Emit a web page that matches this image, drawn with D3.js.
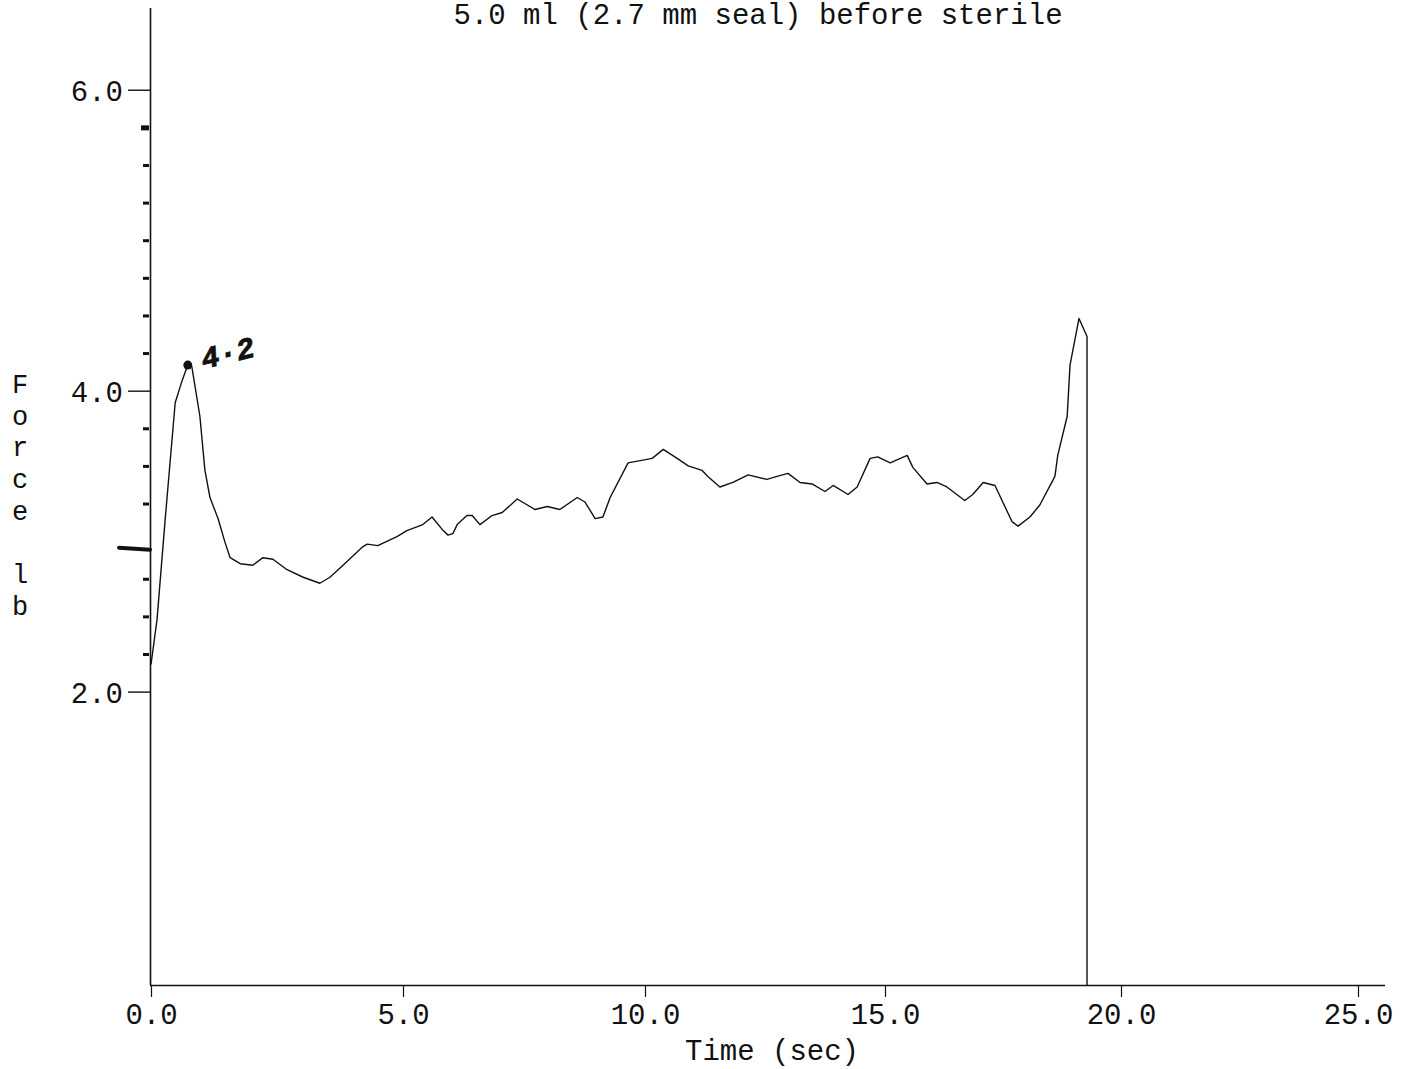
<!DOCTYPE html>
<html>
<head>
<meta charset="utf-8">
<script src="https://cdn.jsdelivr.net/npm/d3@7"></script>
<style>
  html, body { margin: 0; padding: 0; background: #fff; }
  svg { display: block; }
  text { font-family: "Liberation Mono", "DejaVu Sans Mono", monospace; fill: #111; }
</style>
</head>
<body>
<script>
// ---- data ----
const titleText = "5.0 ml (2.7 mm seal) before sterile";
const xLabel = "Time (sec)";
const yLabelLetters = ["F", "o", "r", "c", "e", "", "l", "b"];
const xTicks = [0, 5, 10, 15, 20, 25];
const yTicks = [2, 4, 6];
const yMinorTicks = [2.25, 2.5, 2.75, 3.25, 3.5, 3.75, 4.25, 4.5, 4.75, 5.0, 5.25, 5.5, 5.75];
const timeSec = [0, 0.12, 0.28, 0.48, 0.62, 0.73, 0.81, 0.97, 1.07, 1.17, 1.33, 1.47, 1.57, 1.77, 2.02, 2.22, 2.42, 2.70, 3.02, 3.35, 3.55, 3.81, 4.19, 4.29, 4.50, 4.88, 5.08, 5.41, 5.60, 5.83, 5.93, 6.03, 6.12, 6.32, 6.43, 6.59, 6.84, 7.05, 7.36, 7.73, 7.98, 8.24, 8.60, 8.76, 8.97, 9.13, 9.28, 9.65, 10.15, 10.38, 10.67, 10.90, 11.19, 11.31, 11.56, 11.83, 12.15, 12.54, 12.75, 12.98, 13.23, 13.48, 13.75, 13.92, 14.23, 14.42, 14.69, 14.85, 15.11, 15.47, 15.59, 15.89, 16.10, 16.31, 16.69, 16.86, 17.08, 17.33, 17.48, 17.69, 17.82, 18.07, 18.28, 18.60, 18.66, 18.86, 18.92, 19.11, 19.28, 19.28];
const forceLb = [2.18, 2.48, 3.14, 3.92, 4.07, 4.17, 4.16, 3.83, 3.47, 3.29, 3.15, 2.99, 2.89, 2.85, 2.84, 2.89, 2.88, 2.81, 2.76, 2.72, 2.76, 2.84, 2.96, 2.98, 2.97, 3.03, 3.07, 3.11, 3.16, 3.07, 3.04, 3.05, 3.11, 3.17, 3.17, 3.11, 3.17, 3.19, 3.28, 3.21, 3.23, 3.21, 3.29, 3.26, 3.15, 3.16, 3.29, 3.52, 3.55, 3.61, 3.55, 3.50, 3.47, 3.43, 3.36, 3.39, 3.44, 3.41, 3.43, 3.45, 3.39, 3.38, 3.33, 3.37, 3.31, 3.36, 3.55, 3.56, 3.52, 3.57, 3.49, 3.38, 3.39, 3.36, 3.27, 3.31, 3.39, 3.37, 3.27, 3.13, 3.10, 3.16, 3.24, 3.43, 3.57, 3.83, 4.17, 4.48, 4.36, 0.05];
const peakNote = { t: 0.73, v: 4.17, label: "4·2" };
const handMarkValue = 2.95;

// ---- layout ----
const W = 1410, H = 1069;
const svg = d3.select("body").append("svg").attr("width", W).attr("height", H);

// axis of the scanned plot is slightly non-uniform, so a piecewise-linear scale is used
const x = d3.scaleLinear().domain([0, 5, 10, 15, 20, 25]).range([151, 403, 645, 885, 1121, 1358]);
const y = d3.scaleLinear().domain([0.05, 6.53]).range([985, 10]);

// title (kept fully visible at the top edge)
svg.append("text").attr("x", 758).attr("y", 24).attr("text-anchor", "middle")
  .attr("font-size", 29).text(titleText);

// x axis
const xAxis = d3.axisBottom(x).tickValues(xTicks).tickFormat(d3.format(".1f"))
  .tickSize(12).tickSizeOuter(0);
const gx = svg.append("g").attr("transform", "translate(0,985)").call(xAxis);
gx.select(".domain").attr("d", "M150,0.5H1385").attr("stroke", "#111").attr("stroke-width", 1.6);
gx.selectAll(".tick line").attr("stroke", "#111").attr("stroke-width", 1.2);
gx.selectAll(".tick text").attr("font-size", 29).attr("y", 39).attr("dy", null)
  .attr("font-family", "Liberation Mono, monospace").attr("fill", "#111");

// x label
svg.append("text").attr("x", 772).attr("y", 1060).attr("text-anchor", "middle")
  .attr("font-size", 29).text(xLabel);

// y axis
const yAxis = d3.axisLeft(y).tickValues(yTicks).tickFormat(d3.format(".1f"))
  .tickSize(22).tickSizeOuter(0).tickPadding(5);
const gy = svg.append("g").attr("transform", "translate(150,0)").call(yAxis);
gy.select(".domain").attr("d", "M0.5,985V8").attr("stroke", "#111").attr("stroke-width", 1.6);
gy.selectAll(".tick line").attr("stroke", "#111").attr("stroke-width", 1.4);
gy.selectAll(".tick text").attr("font-size", 29).attr("dy", "0.36em")
  .attr("font-family", "Liberation Mono, monospace").attr("fill", "#111");

// minor ticks
const yMinor = d3.axisLeft(y).tickValues(yMinorTicks).tickFormat("").tickSize(6).tickSizeOuter(0);
const gm = svg.append("g").attr("transform", "translate(149,0)").call(yMinor);
gm.select(".domain").remove();
gm.selectAll(".tick line").attr("stroke", "#111").attr("stroke-width", 3);
gm.selectAll(".tick").filter(d => d === 5.75).select("line").attr("stroke-width", 5).attr("x2", -8);

// hand-drawn mark on y axis
svg.append("path")
  .attr("d", `M119,${y(handMarkValue) - 1}L150,${y(handMarkValue) + 1}`)
  .attr("stroke", "#111").attr("stroke-width", 4).attr("stroke-linecap", "round");

// y label, stacked letters
svg.append("g").selectAll("text").data(yLabelLetters).join("text")
  .attr("x", 20).attr("y", (d, i) => 393 + i * 31.7)
  .attr("text-anchor", "middle").attr("font-size", 27).text(d => d);

// data line
const pts = timeSec.map((t, i) => [t, forceLb[i]]);
const line = d3.line().x(d => x(d[0])).y(d => y(d[1]));
svg.append("path").datum(pts).attr("d", line)
  .attr("fill", "none").attr("stroke", "#111").attr("stroke-width", 1.4)
  .attr("stroke-linejoin", "round");

// peak annotation (handwritten)
svg.append("circle").attr("cx", x(peakNote.t)).attr("cy", y(peakNote.v)).attr("r", 4.5).attr("fill", "#111");
svg.append("text")
  .attr("transform", `translate(${x(peakNote.t) + 16},${y(peakNote.v) + 4}) rotate(-14)`)
  .attr("font-family", "DejaVu Sans, sans-serif").attr("font-weight", "bold")
  .attr("font-style", "italic").attr("font-size", 30)
  .attr("stroke", "#111").attr("stroke-width", 0.8).text(peakNote.label);
</script>
</body>
</html>
